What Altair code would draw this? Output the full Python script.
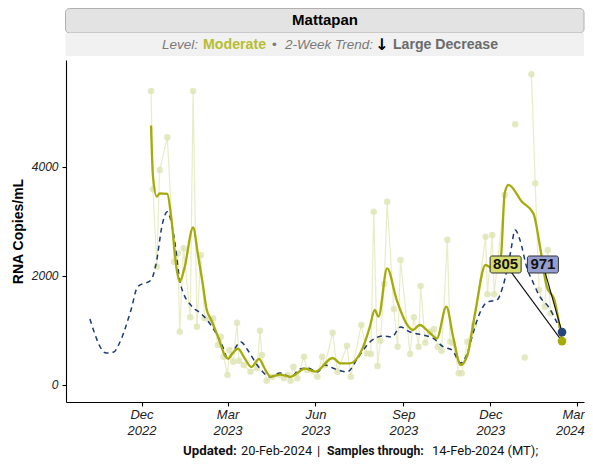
import altair as alt
import pandas as pd

# ---------------- data ----------------
raw_dates = [
    "2022-12-11", "2022-12-13", "2022-12-17", "2022-12-20", "2022-12-28", "2023-01-04",
    "2023-01-08", "2023-01-10", "2023-01-14", "2023-01-21", "2023-01-24", "2023-01-28",
    "2023-02-01", "2023-02-05", "2023-02-10", "2023-02-14", "2023-02-19", "2023-02-22",
    "2023-02-25", "2023-03-01", "2023-03-03", "2023-03-07", "2023-03-11", "2023-03-13",
    "2023-03-18", "2023-03-25", "2023-04-01", "2023-04-04", "2023-04-06", "2023-04-11",
    "2023-04-17", "2023-04-24", "2023-04-29", "2023-05-03", "2023-05-06", "2023-05-09",
    "2023-05-13", "2023-05-20", "2023-05-23", "2023-06-03", "2023-06-08", "2023-06-11",
    "2023-06-19", "2023-06-24", "2023-07-04", "2023-07-08", "2023-07-19", "2023-07-25",
    "2023-07-29", "2023-08-01", "2023-08-05", "2023-08-08", "2023-08-12", "2023-08-15",
    "2023-08-22", "2023-08-26", "2023-08-29", "2023-09-08", "2023-09-12", "2023-09-17",
    "2023-09-19", "2023-09-24", "2023-09-29", "2023-10-03", "2023-10-07", "2023-10-11",
    "2023-10-17", "2023-10-20", "2023-10-23", "2023-10-29", "2023-11-01", "2023-11-07",
    "2023-11-14", "2023-11-26", "2023-11-28", "2023-12-03", "2023-12-05", "2023-12-16",
    "2023-12-27",
    "2024-01-06",
    "2024-01-13", "2024-01-17", "2024-01-21", "2024-01-27", "2024-01-30", "2024-02-02",
]
raw_values = [
    5394, 3590, 2171, 3945, 4544, 2263,
    2416, 978, 2508, 1242, 5394, 1070,
    2385, 1223, 1205, 1223, 734, 887,
    520, 183, 642, 428, 1143, 446,
    367, 244, 306, 996, 550, 79,
    153, 183, 122, 183, 79, 336,
    122, 520, 275, 153, 520, 367,
    960, 244, 719, 153, 1101, 580,
    569, 3180, 349, 813, 1853, 3364,
    1394, 703, 2294, 569, 1242, 703,
    1817, 777, 978, 1028, 703, 629,
    2667, 795, 765, 214, 214, 795,
    1101, 2722, 1664, 2752, 1664, 3486,
    4783,
    506,
    5700, 3700, 1743, 1437, 2477, 1316,
]
raw_segments = [1] * 78 + [2] + [3] + [4] * 6

green_dates = [
    "2022-12-11", "2022-12-13", "2022-12-17", "2022-12-20", "2022-12-28", "2023-01-01",
    "2023-01-07", "2023-01-10", "2023-01-15", "2023-01-24", "2023-01-29", "2023-02-03",
    "2023-02-07", "2023-02-12", "2023-02-19", "2023-02-27", "2023-03-02", "2023-03-05",
    "2023-03-12", "2023-03-19", "2023-03-26", "2023-04-03", "2023-04-08", "2023-04-15",
    "2023-04-25", "2023-05-06", "2023-05-21", "2023-06-01", "2023-06-19", "2023-06-27",
    "2023-07-07", "2023-07-21", "2023-07-28", "2023-08-02", "2023-08-06", "2023-08-15",
    "2023-08-25", "2023-09-04", "2023-09-11", "2023-09-18", "2023-09-29", "2023-10-06",
    "2023-10-16", "2023-10-23", "2023-10-31", "2023-11-07", "2023-11-15", "2023-11-26",
    "2023-12-03", "2023-12-12", "2023-12-16", "2023-12-20", "2024-01-03", "2024-01-15",
    "2024-01-22", "2024-01-29", "2024-02-06", "2024-02-14",
]
green_values = [
    4760, 3830, 3456, 3517, 3505, 3089,
    2100, 1896, 2150, 2890, 2400, 1865,
    1400, 1193, 887, 520, 480, 550,
    665, 489, 330, 480, 330, 153,
    190, 150, 300, 244, 495, 398,
    398, 703, 1070, 1376, 1253, 2141,
    1560, 1132, 1009, 1101, 949, 857,
    1437, 887, 367, 550, 1316, 2202,
    2141, 2355, 3517, 3670, 3364, 3150,
    2538, 1804, 1560, 805,
]

navy_dates = [
    "2022-10-08", "2022-10-25", "2022-11-02", "2022-11-07", "2022-11-20", "2022-11-27",
    "2022-12-11", "2022-12-16", "2022-12-23", "2022-12-28", "2023-01-04", "2023-01-11",
    "2023-01-23", "2023-02-01", "2023-02-15", "2023-02-24", "2023-03-01", "2023-03-15",
    "2023-03-22", "2023-04-01", "2023-04-15", "2023-04-25", "2023-05-06", "2023-05-16",
    "2023-05-24", "2023-06-03", "2023-06-11", "2023-06-19", "2023-07-04", "2023-07-16",
    "2023-07-28", "2023-08-11", "2023-08-20", "2023-08-29", "2023-09-08", "2023-09-22",
    "2023-10-02", "2023-10-13", "2023-10-22", "2023-10-31", "2023-11-07", "2023-11-13",
    "2023-11-20", "2023-11-28", "2023-12-08", "2023-12-14", "2023-12-22", "2023-12-27",
    "2024-01-01", "2024-01-08", "2024-01-15", "2024-01-22", "2024-01-31", "2024-02-09",
    "2024-02-14",
]
navy_values = [
    1211, 587, 605, 734, 1376, 1804,
    1927, 2202, 2966, 3180, 2722, 1835,
    1437, 1316, 1009, 703, 495, 789,
    642, 367, 147, 220, 147, 294,
    312, 239, 367, 312, 239, 514,
    789, 899, 881, 1064, 972, 917,
    862, 697, 642, 404, 587, 954,
    1321, 1523, 1560, 1798, 2422, 2844,
    2661, 2165, 1872, 1615, 1431, 1138,
    971,
]

end_date = "2024-02-14"
end_values = [805, 971]
end_colors = ["#a4ab0a", "#25467a"]

label_dates = ["2023-12-17", "2024-01-25"]
label_values = [2211, 2211]
label_texts = ["805", "971"]
label_fills = ["#d6dd6e", "#949fd0"]

x_ticks = [(2022, 12), (2023, 3), (2023, 6), (2023, 9), (2023, 12), (2024, 3)]

# ---------------- frames ----------------
raw_df = pd.DataFrame({"date": raw_dates, "value": raw_values, "seg": raw_segments})
green_df = pd.DataFrame({"date": green_dates, "value": green_values})
navy_df = pd.DataFrame({"date": navy_dates, "value": navy_values})
end_df = pd.DataFrame({"date": [end_date] * 2, "value": end_values, "color": end_colors})
lab_df = pd.DataFrame({
    "date": label_dates, "value": label_values, "text": label_texts, "fill": label_fills,
    "date2": [end_date] * 2, "value2": end_values,
})

FONT = "Liberation Sans"
W, H = 518, 342

x_scale = alt.Scale(
    type="utc",
    domain=[alt.DateTime(year=2022, month=9, date=13, utc=True),
            alt.DateTime(year=2024, month=3, date=8, utc=True)],
)
x_axis = alt.Axis(
    values=[alt.DateTime(year=y, month=m, date=1, utc=True) for y, m in x_ticks],
    labelExpr="[utcFormat(datum.value, '%b'), utcFormat(datum.value, '%Y')]",
    title=None, grid=False, labelFont=FONT, labelFontStyle="italic", labelFontSize=13,
    labelColor="#222222", labelLineHeight=16, tickSize=4, labelPadding=2,
    domainColor="#000000", tickColor="#000000", labelFlush=10, labelFlushOffset=7,
    labelOverlap=False,
)
y_scale = alt.Scale(domain=[-312, 5963], nice=False, zero=False)
y_axis = alt.Axis(
    values=[0, 2000, 4000], format="d", title="RNA Copies/mL", titleFont=FONT,
    titleFontSize=14, titleFontWeight="bold", titleColor="#000000", labelFont=FONT,
    labelFontStyle="italic", labelFontSize=12, labelColor="#222222", grid=False,
    tickSize=4, labelPadding=4, domainColor="#000000", tickColor="#000000",
    titlePadding=6,
)

X = alt.X("date:T", scale=x_scale, axis=x_axis)
Y = alt.Y("value:Q", scale=y_scale, axis=y_axis)

raw_line = alt.Chart(raw_df).mark_line(color="#e9ecc8", strokeWidth=1.2).encode(
    x=X, y=Y, detail="seg:N")
raw_pts = alt.Chart(raw_df).mark_circle(color="#dfe3b2", opacity=0.8, size=42).encode(
    x=X, y=Y)
navy_line = alt.Chart(navy_df).mark_line(
    color="#1d3a72", strokeWidth=1.5, strokeDash=[5, 4], interpolate="monotone").encode(
    x=X, y=Y)
green_line = alt.Chart(green_df).mark_line(
    color="#a4ab0a", strokeWidth=2.3, interpolate="monotone").encode(x=X, y=Y)

leaders = alt.Chart(lab_df).mark_rule(color="#111111", strokeWidth=1.1).encode(
    x=X, y=Y, x2=alt.X2("date2:T"), y2=alt.Y2("value2:Q"))
end_pts = alt.Chart(end_df).mark_circle(size=75, opacity=1).encode(
    x=X, y=Y, color=alt.Color("color:N", scale=None))
lab_box = alt.Chart(lab_df).mark_rect(
    xOffset=-15.5, x2Offset=15.5, yOffset=-8.5, y2Offset=8.5, cornerRadius=2,
    stroke="#333333", strokeWidth=1).encode(
    x=X, x2=alt.X2("date:T"), y=Y, y2=alt.Y2("value:Q"),
    fill=alt.Fill("fill:N", scale=None))
lab_txt = alt.Chart(lab_df).mark_text(
    font=FONT, fontSize=15, fontWeight="bold", color="#111111").encode(
    x=X, y=Y, text="text:N")

one = alt.Data(values=[{"k": 1}])
BOX_R = 518

title_box = alt.Chart(one).mark_rect(
    fill="#e3e3e3", stroke="#b0b0b0", strokeWidth=1, cornerRadius=4).encode(
    x=alt.value(-0.5), x2=alt.value(BOX_R), y=alt.value(-51.5), y2=alt.value(-27))
sub_band = alt.Chart(one).mark_rect(fill="#f1f1f1").encode(
    x=alt.value(-0.5), x2=alt.value(BOX_R), y=alt.value(-27), y2=alt.value(-4))
title_txt = alt.Chart(one).mark_text(
    text="Mattapan", font=FONT, fontSize=15, fontWeight="bold", color="#000000",
    align="center", baseline="middle").encode(x=alt.value(259), y=alt.value(-40))

sub_parts = [
    ("Level:", 96, "italic", "normal", "#7a7a7a", FONT, 13.5),
    ("Moderate", 137, "normal", "bold", "#b7bd33", FONT, 14.2),
    ("•", 206, "normal", "normal", "#7a7a7a", FONT, 13.5),
    ("2-Week Trend:", 219, "italic", "normal", "#7a7a7a", FONT, 13.5),
    ("↓", 309, "normal", "bold", "#000000", "DejaVu Sans", 16),
    ("Large Decrease", 327, "normal", "bold", "#6b6b6b", FONT, 14.1),
]
sub_layers = [
    alt.Chart(one).mark_text(
        text=t, font=f, fontSize=fs, fontStyle=st, fontWeight=fw, color=c,
        align="left", baseline="middle").encode(x=alt.value(px), y=alt.value(-15))
    for t, px, st, fw, c, f, fs in sub_parts
]

cap_parts = [
    ("Updated:", 117, "bold", 13.3),
    ("20-Feb-2024", 175, "normal", 12.8),
    ("|", 251, "normal", 13),
    ("Samples through:", 261, "bold", 12.2),
    ("14-Feb-2024 (MT);", 366, "normal", 13),
]
cap_layers = [
    alt.Chart(one).mark_text(
        text=t, font="Roboto", fontSize=fs, fontWeight=fw, color="#111111",
        align="left", baseline="middle").encode(x=alt.value(px), y=alt.value(391))
    for t, px, fw, fs in cap_parts
]

chart = alt.layer(
    title_box, sub_band, title_txt, *sub_layers, *cap_layers,
    raw_line, raw_pts, navy_line, green_line, leaders, end_pts, lab_box, lab_txt,
).properties(
    width=W, height=H,
    autosize=alt.AutoSizeParams(type="none"),
    padding={"left": 58, "top": 52, "right": 1, "bottom": 57},
).configure_view(stroke=None).configure_axis(domainWidth=1.1, tickWidth=1.1)

chart.save("out.html", embed_options={"renderer": "svg", "actions": False})
